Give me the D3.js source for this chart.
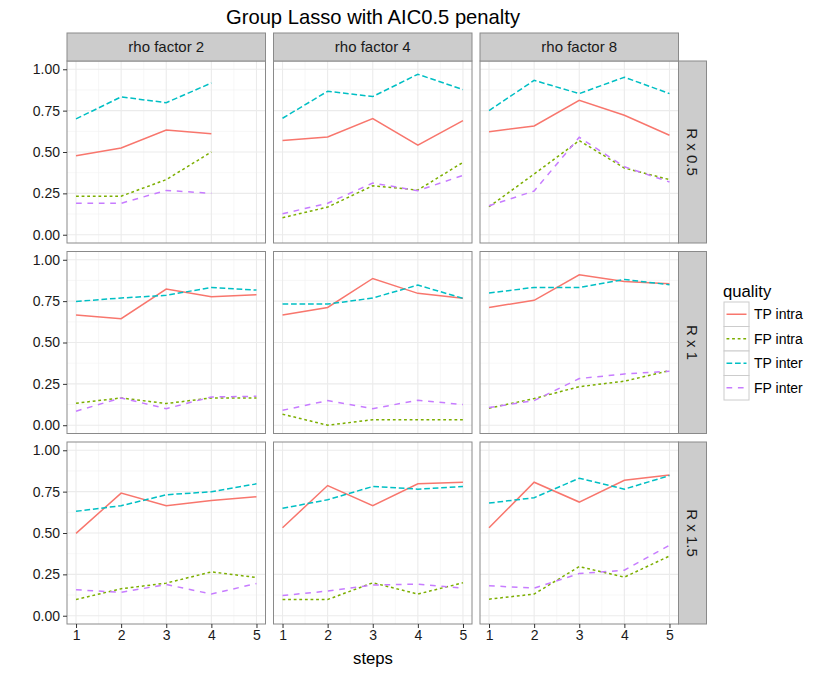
<!DOCTYPE html>
<html><head><meta charset="utf-8">
<script src="https://cdn.jsdelivr.net/npm/d3@7"></script>
<style>body{margin:0;background:#fff}svg{display:block;font-family:"Liberation Sans",Arial,sans-serif}</style>
</head><body>
<svg id="c" width="830" height="675"></svg>
<script>
const title = "Group Lasso with AIC0.5 penalty";
const rhoFactors = ["rho factor 2","rho factor 4","rho factor 8"];
const rFactors = ["R x 0.5","R x 1","R x 1.5"];
const steps = [1,2,3,4,5];
const qualities = ["TP intra","FP intra","TP inter","FP inter"];
const yTicks = [0,0.25,0.5,0.75,1];
const yTickLabels = ["0.00","0.25","0.50","0.75","1.00"];
// values indexed [R row][rho column][step]
const tpIntra = [
 [[0.478,0.524,0.633,0.611,null],[0.569,0.591,0.702,0.542,0.690],[0.623,0.657,0.8125,0.722,0.601]],
 [[0.666,0.644,0.823,0.777,0.789],[0.666,0.712,0.887,0.797,0.767],[0.712,0.755,0.909,0.869,0.855]],
 [[0.498,0.741,0.665,0.697,0.719],[0.532,0.787,0.665,0.797,0.807],[0.532,0.807,0.687,0.819,0.851]]
];
const fpIntra = [
 [[0.233,0.233,0.333,0.5,null],[0.103,0.167,0.296,0.270,0.4375],[0.169,0.367,0.569,0.403,0.333]],
 [[0.133,0.165,0.131,0.165,0.165],[0.0667,0,0.0333,0.0333,0.0333],[0.103,0.161,0.233,0.266,0.33]],
 [[0.098,0.163,0.197,0.265,0.231],[0.098,0.098,0.199,0.131,0.199],[0.10,0.131,0.297,0.233,0.361]]
];
const tpInter = [
 [[0.70,0.833,0.798,0.917,null],[0.704,0.867,0.835,0.970,0.877],[0.75,0.933,0.853,0.952,0.853]],
 [[0.748,0.769,0.785,0.833,0.817],[0.732,0.732,0.769,0.847,0.767],[0.799,0.833,0.833,0.881,0.849]],
 [[0.631,0.665,0.731,0.749,0.797],[0.649,0.701,0.781,0.765,0.781],[0.681,0.713,0.831,0.765,0.847]]
];
const fpInter = [
 [[0.19,0.19,0.268,0.25,null],[0.127,0.19,0.3125,0.266,0.359],[0.175,0.264,0.589,0.411,0.319]],
 [[0.085,0.165,0.10,0.171,0.175],[0.09,0.149,0.10,0.151,0.125],[0.107,0.149,0.282,0.31,0.326]],
 [[0.157,0.141,0.189,0.131,0.195],[0.122,0.149,0.185,0.191,0.167],[0.181,0.167,0.255,0.275,0.426]]
];
const seriesData = [tpIntra, fpIntra, tpInter, fpInter];
const colors = ["#F8766D","#7CAE00","#00BFC4","#C77CFF"];
const dashes = [null,"2.8,2.8","5.7,2.8","5.7,5.7"];

const svg = d3.select("#c");
const panelX0 = 67, colStep = 206.5, panelW = 198.5;
const panelY0 = 61, rowStep = 190.5, panelH = 182;
const stripH = 28;
const tickFont = 14, stripFont = 15;

const x = d3.scaleLinear().domain([0.8,5.2]).range([0,panelW]);
const y = d3.scaleLinear().domain([-0.05,1.05]).range([panelH,0]);
const line = d3.line().defined(d=>d.v!=null).x(d=>x(d.s)).y(d=>y(d.v));

svg.append("text").attr("x",373).attr("y",23.5).attr("text-anchor","middle")
  .attr("font-size",20.2).attr("fill","#000").text(title);

rFactors.forEach((rf,ri)=>{
  rhoFactors.forEach((rho,ci)=>{
    const g = svg.append("g").attr("transform",`translate(${panelX0+ci*colStep},${panelY0+ri*rowStep})`);
    g.append("rect").attr("width",panelW).attr("height",panelH).attr("fill","#fff");
    const xMinor = d3.range(1.5,5,1), yMinor = [0.125,0.375,0.625,0.875];
    g.selectAll(".xm").data(xMinor).join("line").attr("x1",d=>x(d)).attr("x2",d=>x(d))
      .attr("y1",0).attr("y2",panelH).attr("stroke","#F2F2F2").attr("stroke-width",0.6);
    g.selectAll(".ym").data(yMinor).join("line").attr("y1",d=>y(d)).attr("y2",d=>y(d))
      .attr("x1",0).attr("x2",panelW).attr("stroke","#F2F2F2").attr("stroke-width",0.6);
    g.selectAll(".xM").data(steps).join("line").attr("x1",d=>x(d)).attr("x2",d=>x(d))
      .attr("y1",0).attr("y2",panelH).attr("stroke","#EBEBEB").attr("stroke-width",1.1);
    g.selectAll(".yM").data(yTicks).join("line").attr("y1",d=>y(d)).attr("y2",d=>y(d))
      .attr("x1",0).attr("x2",panelW).attr("stroke","#EBEBEB").attr("stroke-width",1.1);
    seriesData.forEach((sd,si)=>{
      const pts = steps.map((s,k)=>({s, v: sd[ri][ci][k]}));
      g.append("path").attr("d",line(pts)).attr("fill","none")
        .attr("stroke",colors[si]).attr("stroke-width",1.5)
        .attr("stroke-dasharray",dashes[si]);
    });
    g.append("rect").attr("width",panelW).attr("height",panelH).attr("fill","none")
      .attr("stroke","#8a8a8a").attr("stroke-width",1);
    if (ci===0) {
      const ax = g.append("g").call(d3.axisLeft(y).tickValues(yTicks).tickSize(4).tickPadding(3)
        .tickFormat((d,i)=>yTickLabels[i]));
      ax.select(".domain").remove();
      ax.selectAll("line").attr("stroke","#333");
      ax.selectAll("text").attr("font-size",tickFont).attr("fill","#1a1a1a").attr("font-family","Liberation Sans, Arial, sans-serif");
    }
    if (ri===2) {
      const ax = g.append("g").attr("transform",`translate(0,${panelH})`)
        .call(d3.axisBottom(x).tickValues(steps).tickSize(4).tickPadding(2).tickFormat(d3.format("d")));
      ax.select(".domain").remove();
      ax.selectAll("line").attr("stroke","#333");
      ax.selectAll("text").attr("font-size",tickFont).attr("fill","#1a1a1a").attr("font-family","Liberation Sans, Arial, sans-serif");
    }
    if (ri===0) {
      g.append("rect").attr("y",-stripH).attr("width",panelW).attr("height",stripH)
        .attr("fill","#CCCCCC").attr("stroke","#8a8a8a").attr("stroke-width",1);
      g.append("text").attr("x",panelW/2).attr("y",-stripH/2).attr("dy","0.35em")
        .attr("text-anchor","middle").attr("font-size",stripFont).attr("fill","#1A1A1A").text(rho);
    }
    if (ci===2) {
      g.append("rect").attr("x",panelW).attr("width",stripH).attr("height",panelH)
        .attr("fill","#CCCCCC").attr("stroke","#8a8a8a").attr("stroke-width",1);
      g.append("text").attr("transform",`translate(${panelW+stripH/2},${panelH/2}) rotate(90)`)
        .attr("dy","0.35em").attr("text-anchor","middle").attr("font-size",stripFont)
        .attr("fill","#1A1A1A").text(rf);
    }
  });
});

svg.append("text").attr("x",373).attr("y",664).attr("text-anchor","middle")
  .attr("font-size",16.7).attr("fill","#000").text("steps");

const lg = svg.append("g").attr("transform","translate(724,0)");
lg.append("text").attr("x",-1).attr("y",297).attr("font-size",16.7).attr("fill","#000").text("quality");
const keyH = 24.5, keyW = 25, keyY0 = 302;
qualities.forEach((q,i)=>{
  const ky = keyY0 + i*keyH;
  lg.append("rect").attr("x",0).attr("y",ky).attr("width",keyW).attr("height",keyH)
    .attr("fill","#fff").attr("stroke","#CCCCCC").attr("stroke-width",1);
  lg.append("line").attr("x1",2.5).attr("x2",keyW-2.5).attr("y1",ky+keyH/2).attr("y2",ky+keyH/2)
    .attr("stroke",colors[i]).attr("stroke-width",1.5).attr("stroke-dasharray",dashes[i]);
  lg.append("text").attr("x",keyW+5).attr("y",ky+keyH/2).attr("dy","0.35em")
    .attr("font-size",14).attr("fill","#000").text(q);
});
</script>
</body></html>
